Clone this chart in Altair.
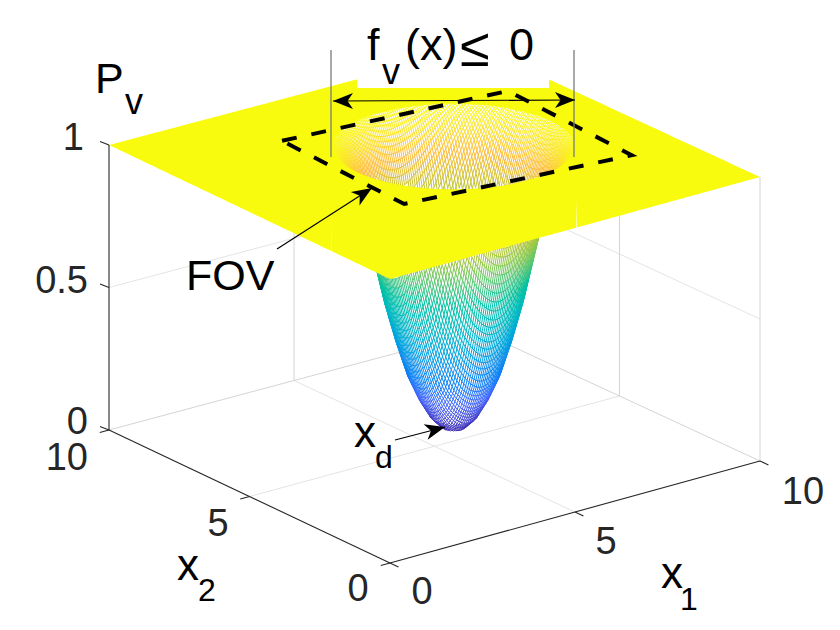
import numpy as np
import pandas as pd
import altair as alt

alt.data_transformers.disable_max_rows()

# Corners of the 3-D box as they appear in the picture (image pixels): (x1, x2)
FLOOR = {(0, 10): (109, 430), (0, 0): (390, 563), (10, 0): (760, 461), (10, 10): (479, 331)}
TOP = {(0, 10): (109, 145), (0, 0): (390, 279), (10, 0): (760, 177), (10, 10): (479, 47)}

# Bowl of P_v
CENTER = (5.9, 5.5)
PROFILE_R = [0, 0.25, 0.5, 0.75, 1.0, 1.25, 1.5, 1.75, 2.0, 2.2, 2.4, 2.6, 3.0]
PROFILE_Z = [0, 0.013, 0.05, 0.115, 0.2, 0.32, 0.46, 0.63, 0.8, 0.9, 0.965, 1.0, 1.0]
RIM = 2.6
STEP = 0.05

# Field of view polygon on the plane z = 1
FOV_X1 = [3.15, 8.87, 8.62, 2.95, 3.15]
FOV_X2 = [7.99, 7.48, 2.75, 3.38, 7.99]

PARULA_POS = [0, 0.14, 0.29, 0.43, 0.57, 0.71, 0.86, 0.93, 1]
PARULA = ["#3e26a8", "#4367fd", "#1f92e8", "#0bb7c4", "#2dc48e", "#a9c63b", "#fdbb3a", "#fbe12a", "#f9fb15"]

Z_TICKS = [0, 0.5, 1]
TICK_LABELS = [("1", 84, 139), ("0.5", 88, 282), ("0", 88, 423), ("10", 88, 459)]
CENTER_LABELS = [("5", 218, 525), ("0", 358, 590), ("0", 422, 593), ("5", 606, 543), ("10", 803, 493)]
LABELS = [
    ("P", 95, 93, 43), ("v", 125, 114, 36),
    ("x", 177, 580, 44), ("2", 198, 601, 32),
    ("x", 661, 588, 44), ("1", 680, 610, 32),
    ("x", 354, 447, 44), ("d", 375, 468, 32),
    ("FOV", 186, 290, 43),
    ("f", 367, 60, 45), ("v", 382, 84, 36), ("(x)", 405, 60, 45), ("≤", 460, 66, 54), ("0", 509, 60, 45),
]
ARROWS = [  # tail x, tail y, tip x, tip y
    (277, 249, 372, 188),
    (395, 440, 445, 427),
    (454, 100.5, 333, 101),
    (454, 100.5, 575, 100),
]
GUIDES = [(331, 50, 331, 157), (574, 50, 574, 157)]
NOTCH = (357, 8, 549, 88)


def project(a, b, z):
    a, b, z = np.asarray(a, float) / 10, np.asarray(b, float) / 10, np.asarray(z, float)
    out = []
    for i in (0, 1):
        f = (FLOOR[(0, 0)][i] * (1 - a) * (1 - b) + FLOOR[(10, 0)][i] * a * (1 - b)
             + FLOOR[(0, 10)][i] * (1 - a) * b + FLOOR[(10, 10)][i] * a * b)
        t = (TOP[(0, 0)][i] * (1 - a) * (1 - b) + TOP[(10, 0)][i] * a * (1 - b)
             + TOP[(0, 10)][i] * (1 - a) * b + TOP[(10, 10)][i] * a * b)
        out.append(f + (t - f) * z)
    return out[0], out[1]


def seg(a0, b0, z0, a1, b1, z1):
    x0, y0 = project(a0, b0, z0)
    x1, y1 = project(a1, b1, z1)
    return dict(x=float(x0), y=float(y0), x2=float(x1), y2=float(y1))


# plane outline
lx, ly = TOP[(0, 10)]
fx, fy = TOP[(0, 0)]
rx, ry = TOP[(10, 0)]
bx, by = TOP[(10, 10)]
th = np.linspace(0, 2 * np.pi, 361)
rim_x, rim_y = project(CENTER[0] + RIM * np.cos(th), CENTER[1] + RIM * np.sin(th), np.ones_like(th))
grid_x = np.linspace(rim_x.min(), rim_x.max(), 160)
# split rim at its two extreme points into an upper and a lower half
il, ir = int(np.argmin(rim_x)), int(np.argmax(rim_x))
line = np.interp(rim_x, [rim_x[il], rim_x[ir]], [rim_y[il], rim_y[ir]])
up = rim_y <= line
lo = ~up
o = np.argsort(rim_x[up])
rim_top = np.interp(grid_x, rim_x[up][o], rim_y[up][o])
o = np.argsort(rim_x[lo])
rim_bot = np.interp(grid_x, rim_x[lo][o], rim_y[lo][o])
mid0, mid1 = rim_y[il], rim_y[ir]
rim_top[0] = rim_bot[0] = mid0
rim_top[-1] = rim_bot[-1] = mid1


def back(x):
    return np.interp(x, [lx, bx, rx], [ly, by, ry])


def front(x):
    return np.interp(x, [lx, fx, rx], [ly, fy, ry])


xs = np.unique(np.concatenate([[lx, bx, fx, rx], np.linspace(lx, rx, 200), grid_x]))
low_a = np.where((xs >= grid_x[0]) & (xs <= grid_x[-1]), np.interp(xs, grid_x, rim_top), front(xs))
plane_a = pd.DataFrame({"x": xs, "y": back(xs), "y2": low_a})
# the lower band overlaps the upper one by a pixel at both ends so no seam shows
xb = np.unique(np.concatenate([grid_x, [fx, grid_x[0] - 1.5, grid_x[-1] + 1.5]]))
plane_b = pd.DataFrame({"x": xb, "y": np.interp(xb, grid_x, rim_bot), "y2": front(xb)})

# bowl mesh
nodes = np.round(np.arange(0, 10 + STEP / 2, STEP), 4)


def height(r):
    return np.interp(r, PROFILE_R, PROFILE_Z)


A, B = np.meshgrid(nodes, nodes, indexing="ij")
Rr = np.hypot(A - CENTER[0], B - CENTER[1])
Zz = height(Rr)
SX, SY = project(A, B, Zz)
V = np.array([-28.1, -37.0])
Vz = 2.73

rows = []


def add_family(a0, b0, a1, b1):
    r0 = np.hypot(a0 - CENTER[0], b0 - CENTER[1])
    r1 = np.hypot(a1 - CENTER[0], b1 - CENTER[1])
    keep = (r0 <= RIM + 0.1) & (r1 <= RIM + 0.1)
    a0, b0, a1, b1 = a0[keep], b0[keep], a1[keep], b1[keep]
    z0, z1 = height(np.hypot(a0 - CENTER[0], b0 - CENTER[1])), height(np.hypot(a1 - CENTER[0], b1 - CENTER[1]))
    ma, mb = (a0 + a1) / 2, (b0 + b1) / 2
    rm = np.maximum(np.hypot(ma - CENTER[0], mb - CENTER[1]), 1e-6)
    slope = (height(rm + 0.01) - height(rm - 0.01)) / 0.02
    dot = ((ma - CENTER[0]) * V[0] + (mb - CENTER[1]) * V[1]) / rm
    upper = Vz - slope * dot > 0
    x0, y0 = project(a0, b0, z0)
    x1, y1 = project(a1, b1, z1)
    mx, my = (x0 + x1) / 2, (y0 + y1) / 2
    in_hole = (my >= np.interp(mx, grid_x, rim_top) - 2) & (my <= np.interp(mx, grid_x, rim_bot) + 2)
    below = my > front(mx) - 3
    vis = (upper & in_hole) | (~upper & below)
    rows.append(pd.DataFrame({
        "x": np.round(x0[vis], 2), "y": np.round(y0[vis], 2),
        "x2": np.round(x1[vis], 2), "y2": np.round(y1[vis], 2),
        "z": np.round((z0[vis] + z1[vis]) / 2, 3)}))


add_family(A[:-1, :].ravel(), B[:-1, :].ravel(), A[1:, :].ravel(), B[1:, :].ravel())
add_family(A[:, :-1].ravel(), B[:, :-1].ravel(), A[:, 1:].ravel(), B[:, 1:].ravel())
mesh = pd.concat(rows, ignore_index=True)

# white silhouette of the bowl
inside = Rr <= RIM
sil = pd.DataFrame({"sx": np.round(SX[inside]), "sy": SY[inside]}).groupby("sx")["sy"].agg(["min", "max"]).reset_index()
sil.columns = ["x", "y", "y2"]

# grid and axes
grid_soft = [seg(5, 0, 0, 5, 10, 0), seg(0, 5, 0, 10, 5, 0),
             seg(0, 10, 0.5, 10, 10, 0.5), seg(10, 10, 0.5, 10, 0, 0.5)]
grid_box = [seg(0, 10, 0, 10, 10, 0), seg(10, 10, 0, 10, 0, 0),
            seg(5, 10, 0, 5, 10, 1), seg(10, 5, 0, 10, 5, 1), seg(10, 0, 0, 10, 0, 1)]
axis_lines = [seg(0, 10, 0, 0, 10, 1), seg(0, 10, 0, 0, 0, 0), seg(0, 0, 0, 10, 0, 0)]
tick_lines = []
for v in (0, 5, 10):
    tick_lines.append(seg(0, v, 0, -0.25, v, 0))
    tick_lines.append(seg(v, 0, 0, v, -0.3, 0))
for v in Z_TICKS:
    x0, y0 = project(0, 10, v)
    tick_lines.append(dict(x=float(x0), y=float(y0), x2=float(x0 - 9), y2=float(y0 - 3.5)))

X = alt.X("x:Q", scale=alt.Scale(domain=[8, 832]), axis=None)
Y = alt.Y("y:Q", scale=alt.Scale(domain=[622, 8]), axis=None)


def rules(records, color, width):
    return alt.Chart(pd.DataFrame(records)).mark_rule(color=color, strokeWidth=width).encode(
        x=X, y=Y, x2="x2:Q", y2="y2:Q")


layers = [
    rules(grid_soft, "#e4e4e4", 1),
    rules(grid_box, "#d4d4d4", 1),
    alt.Chart(sil).mark_area(color="white", opacity=1).encode(x=X, y=Y, y2="y2:Q"),
    alt.Chart(mesh).mark_rule(strokeWidth=1.0).encode(
        x=X, y=Y, x2="x2:Q", y2="y2:Q",
        color=alt.Color("z:Q", legend=None, scale=alt.Scale(domain=PARULA_POS, range=PARULA))),
    alt.Chart(plane_a).mark_area(color="#f9fb0e", opacity=1).encode(x=X, y=Y, y2="y2:Q"),
    alt.Chart(plane_b).mark_area(color="#f9fb0e", opacity=1).encode(x=X, y=Y, y2="y2:Q"),
    alt.Chart(pd.DataFrame([dict(x=NOTCH[0], y=NOTCH[1], x2=NOTCH[2], y2=NOTCH[3])])).mark_rect(color="white").encode(
        x=X, y=Y, x2="x2:Q", y2="y2:Q"),
    rules(axis_lines, "#262626", 1.1),
    rules(tick_lines, "#262626", 1.1),
]

fx_s, fy_s = project(FOV_X1, FOV_X2, np.ones(len(FOV_X1)))
fov = pd.DataFrame({"x": fx_s, "y": fy_s, "o": range(len(fx_s))})
layers.append(alt.Chart(fov).mark_line(color="black", strokeWidth=4, strokeDash=[15, 15]).encode(
    x=X, y=Y, order="o:Q"))

layers.append(rules([dict(x=a, y=b, x2=c, y2=d) for a, b, c, d in GUIDES], "#7a7a7a", 1.3))
layers.append(rules([dict(x=a, y=b, x2=c, y2=d) for a, b, c, d in ARROWS], "black", 1.2))

HEAD = "M0,-1L0.8,1L0,0.45L-0.8,1Z"
HEAD_LEN = 20.0
heads = []
for a, b, c, d in ARROWS:
    L = np.hypot(c - a, d - b)
    ux, uy = (c - a) / L, (d - b) / L
    ang = float(np.degrees(np.arctan2(ux, -uy))) % 360
    heads.append(dict(x=c - ux * HEAD_LEN / 2, y=d - uy * HEAD_LEN / 2, a=ang))
layers.append(alt.Chart(pd.DataFrame(heads)).mark_point(
    shape=HEAD, filled=True, color="black", opacity=1, size=400, strokeWidth=0).encode(
    x=X, y=Y, angle=alt.Angle("a:Q", scale=None)))

FONT = "Liberation Sans"
tl = pd.DataFrame(TICK_LABELS, columns=["t", "x", "y"])
layers.append(alt.Chart(tl).mark_text(font=FONT, fontSize=38, color="#262626", align="right", baseline="middle").encode(
    x=X, y=Y, text="t:N"))
cl = pd.DataFrame(CENTER_LABELS, columns=["t", "x", "y"])
layers.append(alt.Chart(cl).mark_text(font=FONT, fontSize=38, color="#262626", align="center", baseline="middle").encode(
    x=X, y=Y, text="t:N"))
lb = pd.DataFrame(LABELS, columns=["t", "x", "y", "s"])
layers.append(alt.Chart(lb).mark_text(font=FONT, color="black", align="left", baseline="alphabetic").encode(
    x=X, y=Y, text="t:N", size=alt.Size("s:Q", scale=None, legend=None)))

chart = alt.layer(*layers).resolve_scale(color="independent").properties(
    width=824, height=614, padding=0, autosize=alt.AutoSizeParams(type="none"),
    background="white",
).configure_view(stroke=None)

chart.save("out.html", embed_options={"renderer": "svg", "actions": False})
